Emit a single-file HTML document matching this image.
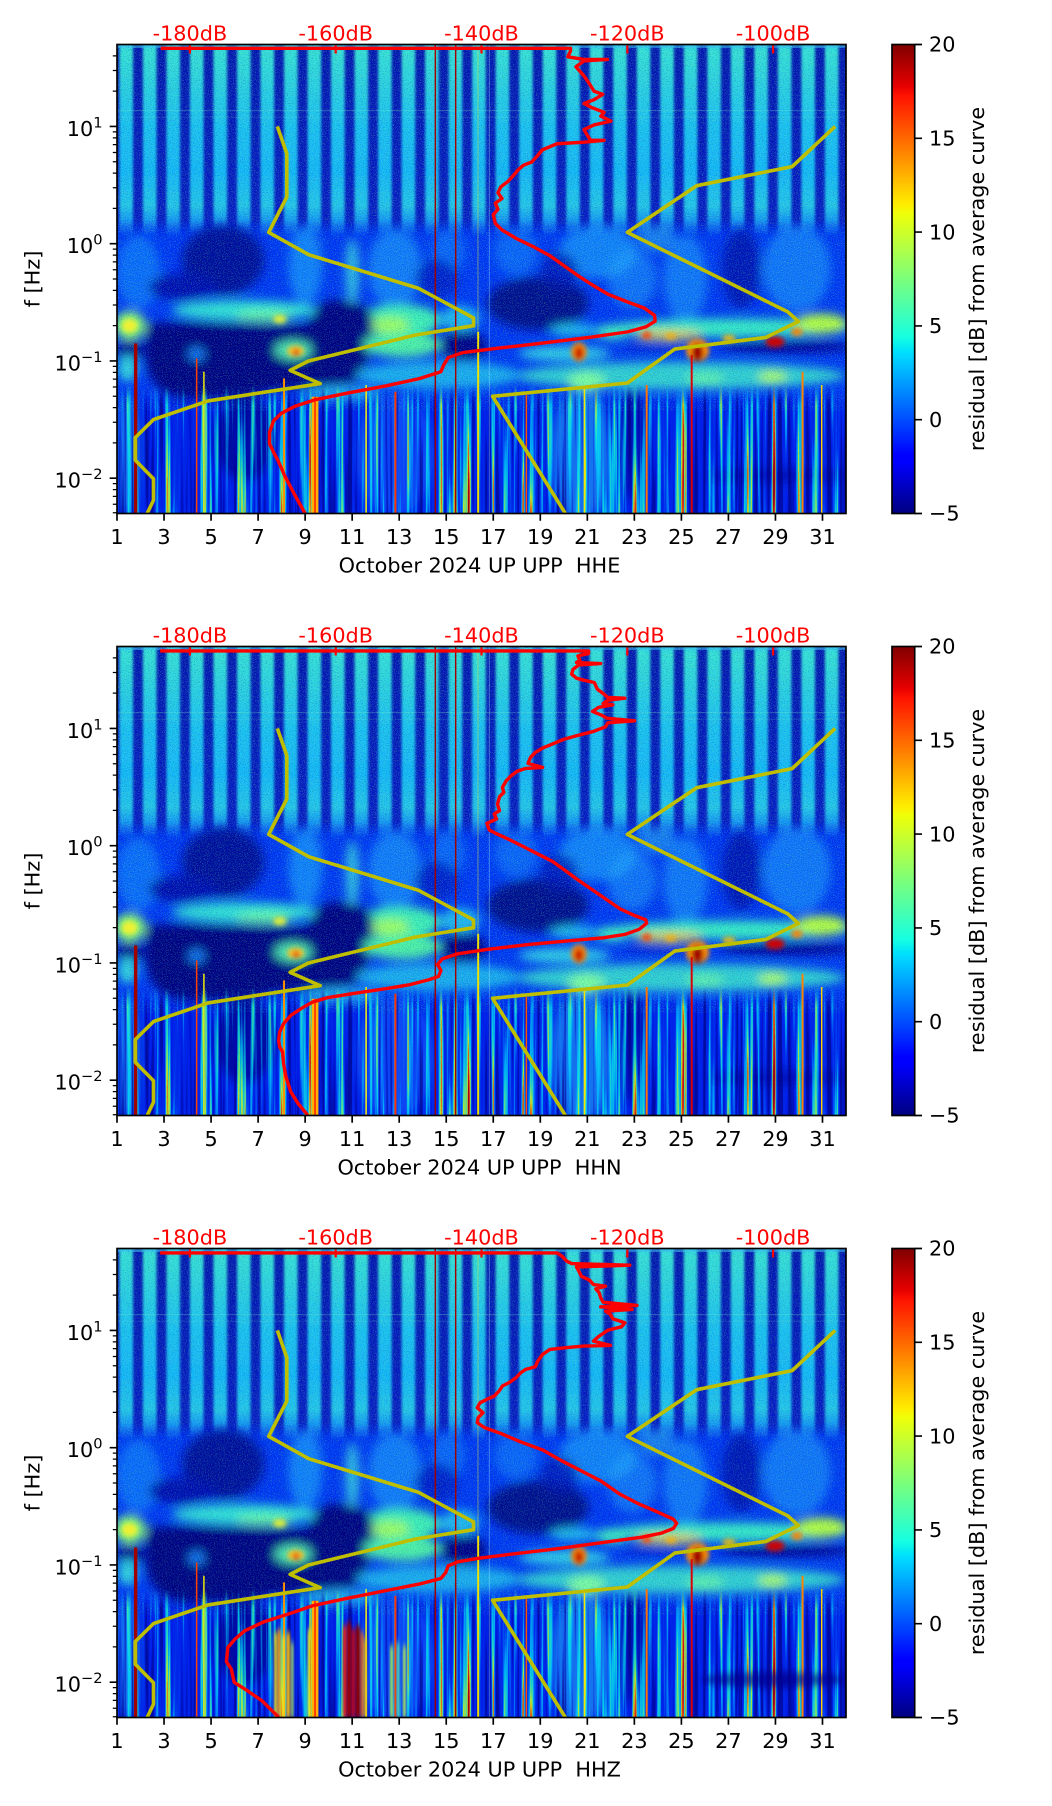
<!DOCTYPE html>
<html><head><meta charset="utf-8">
<style>
html,body{margin:0;padding:0;background:#fff}
svg{display:block}
text{font-family:"DejaVu Sans","Liberation Sans",sans-serif;font-size:20.8px;fill:#000}
.yl{fill:none;stroke:#bfbf00;stroke-width:3.6px;vector-effect:non-scaling-stroke;stroke-linejoin:round}
.rd{fill:none;stroke:#ff0000;stroke-width:3.4px;vector-effect:non-scaling-stroke;stroke-linejoin:round}
.rt{fill:#ff0000}
</style></head>
<body>
<svg width="1052" height="1806" viewBox="0 0 1052 1806" xmlns="http://www.w3.org/2000/svg">
<defs>
<linearGradient id="jet" x1="0" y1="1" x2="0" y2="0">
<stop offset="0" stop-color="#000080"/><stop offset="0.11" stop-color="#0000ff"/><stop offset="0.125" stop-color="#0000ff"/>
<stop offset="0.34" stop-color="#00dbff"/><stop offset="0.35" stop-color="#00e6f7"/><stop offset="0.375" stop-color="#15ffe2"/>
<stop offset="0.5" stop-color="#7bff7b"/><stop offset="0.64" stop-color="#efff08"/><stop offset="0.66" stop-color="#ffec00"/>
<stop offset="0.89" stop-color="#ff1300"/><stop offset="0.91" stop-color="#e80000"/><stop offset="1" stop-color="#800000"/>
</linearGradient>
<linearGradient id="sg" gradientUnits="userSpaceOnUse" x1="0" y1="17" x2="0" y2="600">
<stop offset="0" stop-color="#30d8e8"/><stop offset="0.04" stop-color="#38e0d8"/><stop offset="0.23" stop-color="#2cd0e4"/>
<stop offset="0.42" stop-color="#1ec2f2"/><stop offset="0.66" stop-color="#18b8f8"/><stop offset="0.83" stop-color="#26c6ea"/>
<stop offset="0.905" stop-color="#1898f4"/><stop offset="0.96" stop-color="#1068f8" stop-opacity="0.7"/><stop offset="1" stop-color="#0040ff" stop-opacity="0"/>
</linearGradient>
<linearGradient id="dg" gradientUnits="userSpaceOnUse" x1="0" y1="16" x2="0" y2="600">
<stop offset="0" stop-color="#0616b0"/><stop offset="0.9" stop-color="#0a1cc4"/><stop offset="0.97" stop-color="#0030ee"/><stop offset="1" stop-color="#0036f4"/>
</linearGradient>
<linearGradient id="mg" gradientUnits="userSpaceOnUse" x1="0" y1="1040" x2="0" y2="1100">
<stop offset="0" stop-color="#fff" stop-opacity="0"/><stop offset="1" stop-color="#fff" stop-opacity="1"/>
</linearGradient>
<mask id="mk" maskUnits="userSpaceOnUse" x="0" y="0" width="1600" height="1500">
<rect x="0" y="1030" width="1600" height="420" fill="url(#mg)"/>
</mask>
<pattern id="stp" patternUnits="userSpaceOnUse" x="41" y="0" width="48.57" height="1500">
<rect x="0" y="0" width="28" height="1500" fill="url(#sg)"/>
</pattern>
<filter id="fs" filterUnits="userSpaceOnUse" x="0" y="0" width="1600" height="1500"><feGaussianBlur stdDeviation="3 0"/></filter>
<filter id="fb" filterUnits="userSpaceOnUse" x="0" y="0" width="1600" height="1500"><feGaussianBlur stdDeviation="10 14"/></filter>
<filter id="fc" filterUnits="userSpaceOnUse" x="0" y="0" width="1600" height="1500"><feGaussianBlur stdDeviation="5 8"/></filter>
<filter id="fd" filterUnits="userSpaceOnUse" x="0" y="0" width="1600" height="1500"><feGaussianBlur stdDeviation="2 10"/></filter>
<filter id="vs" filterUnits="userSpaceOnUse" x="36" y="1030" width="1506" height="400" color-interpolation-filters="sRGB">
<feTurbulence type="fractalNoise" baseFrequency="0.09 0.001" numOctaves="3" seed="5"/>
<feColorMatrix type="matrix" values="1 0 0 0 0  1 0 0 0 0  1 0 0 0 0  1 0 0 0 0"/>
<feComponentTransfer>
<feFuncR type="table" tableValues="0 0 0 0 0 0 0 0 0 0 0 0 0 0 0 0 0 0.2 0.8 1 0.9 0.6 0.6 0.6 0.6 0.6"/>
<feFuncG type="table" tableValues="0 0 0 0 0 0 0 0 0 0 0 0.1 0.25 0.45 0.7 0.88 0.95 1 1 0.4 0 0 0 0 0 0"/>
<feFuncB type="table" tableValues="0.5 0.5 0.5 0.5 0.5 0.5 0.5 0.5 0.55 0.7 0.9 1 1 1 1 1 0.95 0.7 0.1 0 0 0 0 0 0 0"/>
<feFuncA type="table" tableValues="0.75 0.75 0.75 0.75 0.75 0.75 0.75 0.75 0.65 0.5 0.25 0.05 0 0.2 0.5 0.7 0.8 0.9 1 1 1 1 1 1 1 1"/>
</feComponentTransfer>
</filter>
<filter id="spk" filterUnits="userSpaceOnUse" x="36" y="16" width="1506" height="1100" color-interpolation-filters="sRGB">
<feTurbulence type="fractalNoise" baseFrequency="0.6 0.4" numOctaves="1" seed="11"/>
<feColorMatrix type="matrix" values="1 0 0 0 0  1 0 0 0 0  1 0 0 0 0  1 0 0 0 0"/>
<feComponentTransfer>
<feFuncR type="table" tableValues="0 0 0 0 0 0 0 0 0 0 0 0 0 0 0 0 0.3 0.5 0.6 0.6 0.6 0.6 0.6 0.6 0.6 0.6"/>
<feFuncG type="table" tableValues="0 0 0 0 0 0 0 0 0 0 0.5 0.5 0.5 0.5 0.5 0.9 1 1 1 1 1 1 1 1 1 1"/>
<feFuncB type="table" tableValues="0.6 0.6 0.6 0.6 0.6 0.6 0.6 0.6 0.6 0.6 1 1 1 1 1 0.9 0.7 0.5 0.5 0.5 0.5 0.5 0.5 0.5 0.5 0.5"/>
<feFuncA type="table" tableValues="0.6 0.6 0.6 0.6 0.6 0.6 0.6 0.6 0.5 0.3 0.1 0 0 0 0.1 0.4 0.6 0.7 0.7 0.7 0.7 0.7 0.7 0.7 0.7 0.7"/>
</feComponentTransfer>
</filter>

<g id="bg">
<rect x="36" y="16" width="1506" height="1411" fill="#0036f4"/>
<rect x="36" y="16" width="1506" height="600" fill="url(#dg)"/>
<rect x="36" y="16" width="1506" height="600" fill="url(#stp)" filter="url(#fs)"/>
<rect x="36" y="17" width="1506" height="10" fill="#40c0f0" opacity=".6"/>
<rect x="36" y="214" width="1506" height="3" fill="#80f0d0" opacity=".3"/>
<rect x="36" y="234" width="1506" height="2" fill="#80f0d0" opacity=".25"/>
<g filter="url(#fb)">
<rect x="36" y="1080" width="1506" height="350" fill="#0028e8"/>
<ellipse cx="80" cy="700" rx="45" ry="110" fill="#1890ff" opacity=".6"/>
<ellipse cx="425" cy="680" rx="35" ry="120" fill="#20b0ff" opacity=".6"/>
<ellipse cx="522" cy="700" rx="14" ry="100" fill="#40e0e0" opacity=".8"/>
<ellipse cx="610" cy="690" rx="55" ry="120" fill="#20a8ff" opacity=".6"/>
<ellipse cx="720" cy="640" rx="35" ry="70" fill="#1890ff" opacity=".5"/>
<ellipse cx="860" cy="640" rx="45" ry="70" fill="#1890ff" opacity=".5"/>
<ellipse cx="1030" cy="640" rx="80" ry="80" fill="#20b0ff" opacity=".6"/>
<ellipse cx="1100" cy="720" rx="50" ry="90" fill="#20a8ff" opacity=".5"/>
<ellipse cx="1210" cy="720" rx="45" ry="130" fill="#20a8ff" opacity=".55"/>
<ellipse cx="1440" cy="690" rx="70" ry="130" fill="#20a8ff" opacity=".55"/>
<ellipse cx="1150" cy="600" rx="40" ry="40" fill="#30c0f0" opacity=".5"/>
<ellipse cx="255" cy="665" rx="85" ry="105" fill="#000c9c"/>
<ellipse cx="170" cy="745" rx="70" ry="40" fill="#0010b0"/>
<ellipse cx="905" cy="795" rx="105" ry="80" fill="#00088e"/>
<ellipse cx="1325" cy="690" rx="40" ry="120" fill="#0014b8"/>
<ellipse cx="695" cy="720" rx="45" ry="60" fill="#0018c4" opacity=".8"/>
<ellipse cx="950" cy="700" rx="40" ry="60" fill="#0010b0" opacity=".7"/>
<ellipse cx="300" cy="815" rx="150" ry="30" fill="#30e0d8"/>
<ellipse cx="340" cy="832" rx="60" ry="15" fill="#70ffa0"/>
<ellipse cx="62" cy="860" rx="32" ry="42" fill="#90ff70"/>
<ellipse cx="620" cy="845" rx="85" ry="48" fill="#40f0b8"/>
<ellipse cx="600" cy="860" rx="40" ry="25" fill="#a0ff60"/>
<ellipse cx="745" cy="840" rx="40" ry="38" fill="#20b8f0"/>
<ellipse cx="1300" cy="868" rx="250" ry="28" fill="#38ecc8"/>
<ellipse cx="1490" cy="855" rx="55" ry="30" fill="#b8ff40"/>
<ellipse cx="1175" cy="890" rx="70" ry="14" fill="#f0d030"/>
<ellipse cx="1060" cy="880" rx="35" ry="22" fill="#40f0c0"/>
<ellipse cx="980" cy="875" rx="50" ry="18" fill="#20c0f0"/>
<path d="M95 855 C200 845 330 858 430 858 C440 820 450 790 480 785 C520 780 555 800 565 830 L565 905 C560 960 545 1000 525 1035 C470 1045 400 1050 360 1055 C320 1075 250 1090 180 1085 C120 1075 95 1010 95 955 Z" fill="#000082"/>
<ellipse cx="62" cy="935" rx="30" ry="30" fill="#000090"/>
<ellipse cx="750" cy="922" rx="50" ry="45" fill="#000088"/>
<ellipse cx="1420" cy="925" rx="140" ry="17" fill="#00008e"/>
<ellipse cx="1150" cy="925" rx="70" ry="8" fill="#0010c0"/>
<ellipse cx="400" cy="935" rx="38" ry="28" fill="#50e8b0"/>
<ellipse cx="200" cy="947" rx="16" ry="20" fill="#1878f8"/>
<ellipse cx="625" cy="918" rx="80" ry="38" fill="#50f0a8"/>
<ellipse cx="960" cy="945" rx="95" ry="22" fill="#30d0e8"/>
<ellipse cx="1200" cy="1012" rx="340" ry="42" fill="#38e0d0" opacity=".9"/>
<ellipse cx="1005" cy="1030" rx="40" ry="30" fill="#80ffa0"/>
<ellipse cx="1250" cy="1020" rx="40" ry="20" fill="#60f0b0"/>
<ellipse cx="1390" cy="1015" rx="30" ry="18" fill="#b0ff60"/>
<ellipse cx="700" cy="1010" rx="170" ry="42" fill="#20b8f0" opacity=".9"/>
<ellipse cx="500" cy="1062" rx="80" ry="20" fill="#20a8f0"/>
<ellipse cx="58" cy="990" rx="20" ry="40" fill="#30d0e0"/>
<ellipse cx="995" cy="1250" rx="60" ry="200" fill="#20a8f0" opacity=".6"/>
<ellipse cx="58" cy="1250" rx="22" ry="180" fill="#20b0f0" opacity=".6"/>
<ellipse cx="610" cy="1250" rx="80" ry="180" fill="#1068ff" opacity=".5"/>
<ellipse cx="300" cy="1200" rx="65" ry="130" fill="#000aa0"/>
<ellipse cx="1100" cy="1220" rx="30" ry="170" fill="#0012b4"/>
<ellipse cx="1400" cy="1312" rx="150" ry="25" fill="#000c9c" opacity=".6"/>
</g>
<rect x="36" y="16" width="1506" height="1100" filter="url(#spk)" opacity=".45"/>
<g mask="url(#mk)"><rect x="36" y="1030" width="1506" height="400" filter="url(#vs)" opacity=".9"/></g>
<g filter="url(#fc)">
<ellipse cx="372" cy="842" rx="14" ry="12" fill="#e8f030"/>
<ellipse cx="62" cy="862" rx="16" ry="20" fill="#f0f030"/>
<ellipse cx="405" cy="938" rx="18" ry="16" fill="#ffc020"/>
<ellipse cx="406" cy="942" rx="7" ry="9" fill="#e00000"/>
<ellipse cx="990" cy="940" rx="16" ry="28" fill="#ff8000"/>
<ellipse cx="990" cy="944" rx="8" ry="18" fill="#c00000"/>
<ellipse cx="1235" cy="935" rx="24" ry="34" fill="#ff9000"/>
<ellipse cx="1235" cy="942" rx="12" ry="26" fill="#a00000"/>
<ellipse cx="1395" cy="910" rx="20" ry="16" fill="#d00000"/>
<ellipse cx="1440" cy="880" rx="12" ry="12" fill="#ff8000"/>
<ellipse cx="1130" cy="890" rx="10" ry="10" fill="#ff4000"/>
<ellipse cx="1180" cy="893" rx="12" ry="8" fill="#ffb000"/>
<ellipse cx="1300" cy="900" rx="14" ry="10" fill="#ffc000"/>
</g>
<g>
<rect x="71" y="915" width="7" height="511" fill="#a00000"/>
<rect x="199" y="960" width="3" height="466" fill="#ff4000"/>
<rect x="214" y="1000" width="3" height="426" fill="#f0f000"/>
<rect x="379" y="1020" width="4" height="406" fill="#ff9000"/>
<rect x="438" y="1075" width="14" height="351" fill="#ffb000"/>
<rect x="443" y="1075" width="4" height="351" fill="#ff4000"/>
<rect x="549" y="1040" width="3" height="386" fill="#ffff00"/>
<rect x="609" y="1060" width="4" height="366" fill="#ff3000"/>
<rect x="692" y="17" width="3" height="1409" fill="#a00000"/>
<rect x="734" y="17" width="3" height="1409" fill="#a00000"/>
<rect x="780" y="17" width="3" height="1409" fill="#c8e040" opacity=".35"/>
<rect x="780" y="880" width="4" height="546" fill="#f0e000"/>
<rect x="804" y="17" width="2" height="1409" fill="#a0f0ff" opacity=".4"/>
<rect x="880" y="1070" width="3" height="356" fill="#ff5000"/>
<rect x="1000" y="1050" width="3" height="376" fill="#ffe000"/>
<rect x="1128" y="1040" width="4" height="386" fill="#ff7000"/>
<rect x="1221" y="950" width="4" height="476" fill="#e00000"/>
<rect x="1450" y="1000" width="4" height="426" fill="#ff8000"/>
<rect x="1490" y="1040" width="3" height="386" fill="#ffd000"/>
</g>
</g>

<g id="yel">
<polyline class="yl" points="367.2,263 386.7,344.4 386.7,475.1 349.3,581.2 431.9,648.2 658.7,749.2 772.3,838.4 772.3,861.6 652.8,889.5 431.4,967.7 393.5,995.7 455.6,1035.6 224,1087.6 111.3,1143.7 73.6,1197.8 73.6,1265.4 111.3,1321.4 111.3,1386.1 98.2,1426"/>
<polyline class="yl" points="1519.3,263 1430.4,383.7 1233.2,441 1090,581.2 1421.2,819.7 1443.6,848.9 1376,896.9 1188.1,931.7 1090,1033.7 811.7,1073.7 962.2,1426"/>
</g>

<g id="ax">
<rect x="117" y="0" width="729" height="469" fill="none" stroke="#000" stroke-width="1.67"/>
<path d="M117 81.94h-7.3M117 199.19h-7.3M117 316.44h-7.3M117 433.69h-7.3" stroke="#000" stroke-width="1.67"/>
<path d="M117 11.36h-4.2M117 26.01h-4.2M117 46.66h-4.2M117 87.32h-4.2M117 93.32h-4.2M117 100.12h-4.2M117 107.97h-4.2M117 117.25h-4.2M117 128.61h-4.2M117 143.26h-4.2M117 163.91h-4.2M117 204.57h-4.2M117 210.57h-4.2M117 217.37h-4.2M117 225.22h-4.2M117 234.5h-4.2M117 245.86h-4.2M117 260.51h-4.2M117 281.16h-4.2M117 321.82h-4.2M117 327.82h-4.2M117 334.62h-4.2M117 342.47h-4.2M117 351.75h-4.2M117 363.11h-4.2M117 377.76h-4.2M117 398.41h-4.2M117 439.07h-4.2M117 445.07h-4.2M117 451.87h-4.2M117 459.72h-4.2M117 468.2h-4.2" stroke="#000" stroke-width="1.25"/>
<text x="102.5" y="91.4" text-anchor="end">10<tspan dy="-8.5" font-size="14.6">1</tspan></text>
<text x="102.5" y="208.7" text-anchor="end">10<tspan dy="-8.5" font-size="14.6">0</tspan></text>
<text x="102.5" y="325.9" text-anchor="end">10<tspan dy="-8.5" font-size="14.6">−1</tspan></text>
<text x="102.5" y="443.2" text-anchor="end">10<tspan dy="-8.5" font-size="14.6">−2</tspan></text>
<path d="M117 469v7.3M164.03 469v7.3M211.06 469v7.3M258.1 469v7.3M305.13 469v7.3M352.16 469v7.3M399.19 469v7.3M446.23 469v7.3M493.26 469v7.3M540.29 469v7.3M587.32 469v7.3M634.35 469v7.3M681.39 469v7.3M728.42 469v7.3M775.45 469v7.3M822.48 469v7.3" stroke="#000" stroke-width="1.67"/>
<g text-anchor="middle">
<text x="117" y="499.5">1</text><text x="164.03" y="499.5">3</text><text x="211.06" y="499.5">5</text><text x="258.1" y="499.5">7</text>
<text x="305.13" y="499.5">9</text><text x="352.16" y="499.5">11</text><text x="399.19" y="499.5">13</text><text x="446.23" y="499.5">15</text>
<text x="493.26" y="499.5">17</text><text x="540.29" y="499.5">19</text><text x="587.32" y="499.5">21</text><text x="634.35" y="499.5">23</text>
<text x="681.39" y="499.5">25</text><text x="728.42" y="499.5">27</text><text x="775.45" y="499.5">29</text><text x="822.48" y="499.5">31</text>
</g>
<path d="M189.9 1v8M335.7 1v8M481.5 1v8M627.3 1v8M773.1 1v8" stroke="#ff0000" stroke-width="2.2"/>
<g text-anchor="middle">
<text class="rt" x="189.9" y="-3.8">-180dB</text><text class="rt" x="335.7" y="-3.8">-160dB</text>
<text class="rt" x="481.5" y="-3.8">-140dB</text><text class="rt" x="627.3" y="-3.8">-120dB</text>
<text class="rt" x="773.1" y="-3.8">-100dB</text>
</g>
<rect x="892" y="0" width="22.7" height="469" fill="url(#jet)"/>
<rect x="892" y="0" width="22.7" height="469" fill="none" stroke="#000" stroke-width="1.67"/>
<path d="M914.7 0h7.3M914.7 93.8h7.3M914.7 187.6h7.3M914.7 281.4h7.3M914.7 375.2h7.3M914.7 469h7.3" stroke="#000" stroke-width="1.67"/>
<text x="929" y="7.2">20</text><text x="929" y="101">15</text><text x="929" y="194.8">10</text>
<text x="929" y="288.6">5</text><text x="929" y="382.4">0</text><text x="929" y="476.2">−5</text>
<text transform="translate(39.5,234.5) rotate(-90)" text-anchor="middle">f [Hz]</text>
<text transform="translate(984,234.5) rotate(-90)" text-anchor="middle">residual [dB] from average curve</text>
</g>
</defs>

<!-- Panel 1 -->
<svg x="117" y="44.5" width="729" height="469" viewBox="36 16.8 1505.7 1409" preserveAspectRatio="none">
<use href="#bg"/>
<use href="#yel"/>
<svg x="36" y="16.8" width="1505.7" height="1409" viewBox="175 118 1085 1224" preserveAspectRatio="none">
<polyline class="rd" points="240,128 850,128 850,135 846,150 870,157 905,157 870,161 858,176 870,200 878,220 885,240 898,248 885,262 870,272 882,283 900,295 895,305 910,318 885,328 870,340 875,355 880,368 900,368 870,373 830,377 808,393 800,410 792,425 780,433 772,445 765,460 757,475 746,490 742,505 748,520 738,532 742,548 735,562 738,585 748,602 770,625 795,646 820,670 840,695 860,720 882,745 906,770 935,790 960,806 975,825 976,840 962,855 935,868 880,882 810,897 740,911 690,922 668,935 661,955 657,972 625,990 575,1009 520,1027 470,1045 440,1062 420,1080 408,1100 402,1130 402,1160 408,1182 415,1205 425,1245 440,1295 455,1342"/>
</svg>
</svg>
<use href="#ax" y="44.5"/>
<text x="479.5" y="572.7" text-anchor="middle">October 2024 UP UPP&#160; HHE</text>

<!-- Panel 2 -->
<svg x="117" y="646.5" width="729" height="469" viewBox="36 16.8 1505.7 1409" preserveAspectRatio="none">
<use href="#bg"/>
<use href="#yel"/>
<polyline class="rd" points="125,30 1010,30 1010,38 988,45 992,58 985,65 1035,68 990,72 978,85 975,100 985,112 1000,118 1022,125 1028,145 1040,158 1050,170 1085,172 1050,178 1040,188 1060,192 1030,200 1018,212 1035,222 1048,232 1105,240 1050,246 1045,258 1020,272 985,285 960,295 935,310 915,322 900,335 890,350 885,368 915,380 880,383 862,392 850,405 840,420 832,440 835,455 826,468 822,490 826,510 815,520 820,535 800,548 805,568 818,578 848,598 878,620 905,640 935,662 960,688 985,715 1015,745 1045,775 1075,805 1105,825 1128,838 1130,848 1115,866 1085,882 1040,892 960,902 880,913 800,927 740,940 708,955 698,972 705,990 700,1008 680,1018 640,1033 590,1045 530,1058 470,1072 440,1085 418,1103 395,1125 380,1150 372,1175 370,1200 372,1220 378,1235 380,1270 385,1310 395,1355 410,1390 430,1425"/>
</svg>
<use href="#ax" y="646.5"/>
<text x="479.5" y="1174.7" text-anchor="middle">October 2024 UP UPP&#160; HHN</text>

<!-- Panel 3 -->
<svg x="117" y="1248.5" width="729" height="469" viewBox="36 16.8 1505.7 1409" preserveAspectRatio="none">
<use href="#bg"/>
<g filter="url(#fd)">
<rect x="503" y="1150" width="6" height="280" fill="#ff2000"/>
<rect x="511" y="1140" width="8" height="290" fill="#a00000"/>
<rect x="521" y="1160" width="6" height="270" fill="#d00000"/>
<rect x="529" y="1150" width="9" height="280" fill="#900000"/>
<rect x="540" y="1170" width="5" height="260" fill="#ff6000"/>
<rect x="547" y="1190" width="4" height="240" fill="#ffc000"/>
<rect x="361" y="1170" width="5" height="260" fill="#ffe000"/>
<rect x="368" y="1160" width="6" height="270" fill="#ffa000"/>
<rect x="377" y="1180" width="5" height="250" fill="#f0f020"/>
<rect x="386" y="1170" width="7" height="260" fill="#ffc000"/>
<rect x="396" y="1200" width="4" height="230" fill="#c0ff40"/>
<rect x="600" y="1210" width="6" height="220" fill="#a0ff60"/>
<rect x="614" y="1200" width="5" height="230" fill="#60f0a0"/>
<rect x="627" y="1210" width="5" height="220" fill="#c0ff40"/>
<rect x="430" y="1160" width="6" height="270" fill="#e0f020"/>
<ellipse cx="1390" cy="1312" rx="150" ry="22" fill="#000090" opacity=".6"/>
</g>
<use href="#yel"/>
<polyline class="rd" points="125,30 945,30 955,40 965,55 975,62 1095,67 985,72 990,85 995,100 1012,112 1020,125 1045,130 1025,138 1032,150 1035,165 1040,178 1110,188 1035,192 1100,200 1045,205 1055,215 1060,228 1085,240 1078,252 1050,262 1040,272 1030,282 1020,295 1055,308 1000,310 960,315 930,320 915,335 905,355 900,372 880,380 870,390 860,405 848,418 832,430 825,445 815,460 800,470 786,480 780,495 792,510 782,525 780,540 795,555 828,572 870,598 915,622 955,655 995,685 1035,715 1075,755 1115,785 1155,810 1185,830 1192,842 1185,858 1160,872 1120,884 1050,898 950,918 850,935 780,948 740,958 720,970 715,990 705,1008 660,1025 590,1045 510,1068 440,1090 390,1115 340,1138 300,1165 280,1190 265,1215 262,1258 272,1280 278,1320 305,1345 335,1375 370,1425"/>
</svg>
<use href="#ax" y="1248.5"/>
<text x="479.5" y="1776.7" text-anchor="middle">October 2024 UP UPP&#160; HHZ</text>
</svg>
</body></html>
